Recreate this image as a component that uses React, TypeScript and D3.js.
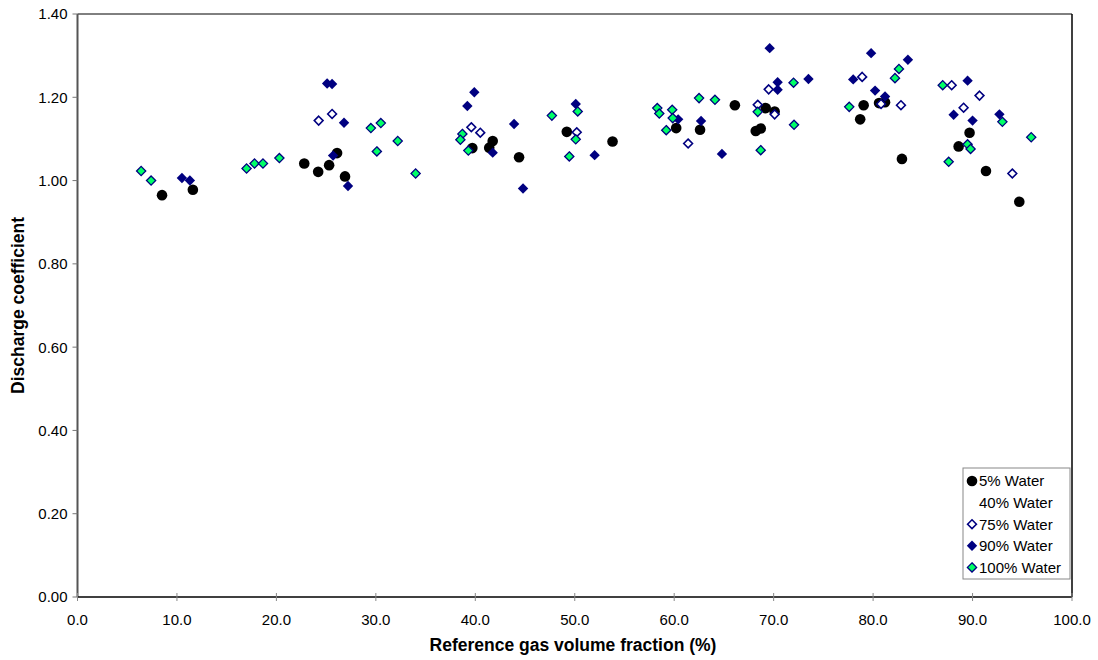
import React from "react";
import * as d3 from "d3";

type Pt = [number, number];

// Reference gas volume fraction (%), discharge coefficient
const water5: Pt[] = [
  [8.5, 0.965], [11.6, 0.978], [22.8, 1.041], [24.2, 1.021], [25.3, 1.037], [26.1, 1.066],
  [26.9, 1.01], [39.7, 1.078], [41.75, 1.095], [41.4, 1.079], [44.4, 1.056], [49.2, 1.117],
  [53.8, 1.094], [60.2, 1.126], [62.6, 1.122], [66.1, 1.181], [69.2, 1.174], [70.1, 1.166],
  [68.2, 1.119], [68.7, 1.125], [79.05, 1.181], [78.7, 1.147], [80.6, 1.186], [81.2, 1.188],
  [82.9, 1.052], [89.7, 1.115], [88.6, 1.082], [91.35, 1.023], [94.7, 0.949],
];

const water40: Pt[] = [];

const water75: Pt[] = [
  [24.25, 1.144], [25.6, 1.16], [39.6, 1.128], [40.5, 1.115], [50.2, 1.116], [61.4, 1.089],
  [68.4, 1.182], [69.5, 1.219], [70.1, 1.159], [78.9, 1.249], [80.8, 1.184], [82.8, 1.181],
  [87.9, 1.229], [90.7, 1.204], [89.1, 1.175], [94.0, 1.017],
];

const water90: Pt[] = [
  [10.5, 1.006], [11.3, 1.0], [25.1, 1.233], [25.6, 1.232], [26.8, 1.139], [25.7, 1.06],
  [27.2, 0.987], [39.9, 1.212], [39.2, 1.179], [41.75, 1.067], [43.9, 1.136], [44.8, 0.981],
  [50.1, 1.184], [52.0, 1.061], [60.4, 1.147], [62.7, 1.143], [64.8, 1.064], [69.6, 1.318],
  [70.4, 1.236], [70.4, 1.218], [73.5, 1.244], [78.0, 1.243], [79.8, 1.306], [80.2, 1.216],
  [81.2, 1.202], [83.5, 1.29], [89.5, 1.24], [88.1, 1.158], [90.0, 1.144], [92.7, 1.159],
];

const water100: Pt[] = [
  [6.4, 1.023], [7.4, 1.0], [17.0, 1.029], [17.8, 1.041], [18.65, 1.041], [20.3, 1.054],
  [29.5, 1.126], [30.5, 1.138], [30.1, 1.07], [32.2, 1.095], [34.0, 1.017], [38.7, 1.112],
  [38.5, 1.098], [39.3, 1.072], [47.7, 1.156], [50.3, 1.166], [50.1, 1.099], [49.45, 1.058],
  [58.3, 1.174], [58.5, 1.161], [59.8, 1.17], [59.85, 1.15], [59.2, 1.121], [62.5, 1.198],
  [64.1, 1.194], [68.4, 1.165], [72.0, 1.235], [72.05, 1.134], [68.7, 1.073], [77.6, 1.177],
  [82.6, 1.268], [82.2, 1.246], [87.0, 1.229], [93.0, 1.141], [95.9, 1.104], [89.5, 1.087],
  [89.8, 1.076], [87.6, 1.045],
];

const xTicks = [0, 10, 20, 30, 40, 50, 60, 70, 80, 90, 100];
const yTicks = [0, 0.2, 0.4, 0.6, 0.8, 1.0, 1.2, 1.4];

const seriesNames = ["5% Water", "40% Water", "75% Water", "90% Water", "100% Water"];

const NAVY = "#000080";
const GREEN = "#00ff66";
const FONT = "'Liberation Sans', Arial, sans-serif";

function Marker({ kind, x, y }: { kind: number; x: number; y: number }) {
  const diamond = (r: number) => `M${x},${y - r}L${x + r},${y}L${x},${y + r}L${x - r},${y}Z`;
  if (kind === 0) return <circle cx={x} cy={y} r={5.3} fill="#000" />;
  if (kind === 2) return <path d={diamond(4.4)} fill="#fff" stroke={NAVY} strokeWidth={1.6} />;
  if (kind === 3) return <path d={diamond(5.2)} fill={NAVY} />;
  if (kind === 4) return <path d={diamond(4.6)} fill={GREEN} stroke={NAVY} strokeWidth={1.3} />;
  return null;
}

export default function App() {
  const W = 1098;
  const H = 660;
  const x = d3.scaleLinear().domain([0, 100]).range([77.5, 1072]);
  const y = d3.scaleLinear().domain([0, 1.4]).range([597, 14]);
  const allSeries = [water5, water40, water75, water90, water100];

  const lx = 963;
  const ly = 468;
  const lw = 107;
  const lh = 111;

  return (
    <svg width={W} height={H} style={{ position: "absolute", left: 0, top: 0, background: "#fff" }} fontFamily={FONT}>
      <rect x={0} y={0} width={W} height={H} fill="#fff" />

      {/* plot frame */}
      <line x1={x(0)} x2={x(100)} y1={y(1.4)} y2={y(1.4)} stroke="#000" strokeWidth={1} />
      <line x1={x(100)} x2={x(100)} y1={y(1.4)} y2={y(0)} stroke="#000" strokeWidth={1.5} />

      {/* y axis */}
      <line x1={x(0)} x2={x(0)} y1={y(1.4)} y2={y(0)} stroke="#555" strokeWidth={2} />
      {yTicks.map((t) => (
        <g key={"y" + t}>
          <line x1={x(0) - 5} x2={x(0)} y1={y(t)} y2={y(t)} stroke="#777" strokeWidth={1} />
          <text x={x(0) - 10} y={y(t)} dy="0.36em" textAnchor="end" fontSize={15} fill="#000">
            {t.toFixed(2)}
          </text>
        </g>
      ))}

      {/* x axis */}
      <line x1={x(0)} x2={x(100)} y1={y(0)} y2={y(0)} stroke="#000" strokeWidth={1.5} />
      {xTicks.map((t) => (
        <g key={"x" + t}>
          <line x1={x(t)} x2={x(t)} y1={y(0) - 4} y2={y(0) + 4} stroke="#888" strokeWidth={1} />
          <text x={x(t)} y={y(0) + 28} textAnchor="middle" fontSize={15} fill="#000">
            {t.toFixed(1)}
          </text>
        </g>
      ))}

      {/* points */}
      {allSeries.map((s, i) => (
        <g key={"s" + i}>
          {s.map((d, j) => (
            <Marker key={j} kind={i} x={x(d[0])} y={y(d[1])} />
          ))}
        </g>
      ))}

      {/* axis titles */}
      <text x={573} y={651} textAnchor="middle" fontSize={17.5} fontWeight="bold" fill="#000">
        Reference gas volume fraction (%)
      </text>
      <text
        transform={`translate(24, ${(y(0) + y(1.4)) / 2}) rotate(-90)`}
        textAnchor="middle"
        fontSize={17.5}
        fontWeight="bold"
        fill="#000"
      >
        Discharge coefficient
      </text>

      {/* legend */}
      <rect x={lx} y={ly} width={lw} height={lh} fill="#fff" stroke="#888" strokeWidth={1} />
      {seriesNames.map((name, i) => {
        const cy = ly + 13 + i * 21.6;
        return (
          <g key={name}>
            <Marker kind={i} x={lx + 9} y={cy} />
            <text x={lx + 16} y={cy} dy="0.36em" fontSize={15} fill="#000">
              {name}
            </text>
          </g>
        );
      })}
    </svg>
  );
}
